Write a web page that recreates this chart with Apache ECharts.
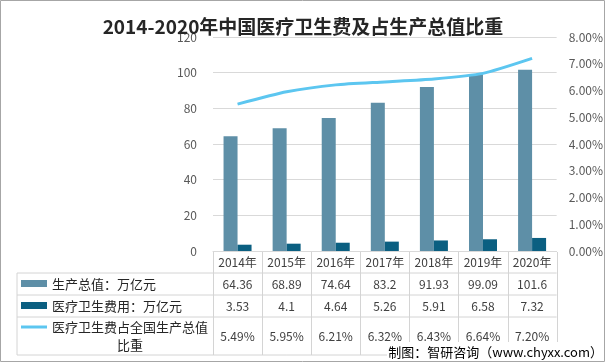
<!DOCTYPE html>
<html><head><meta charset="utf-8">
<script src="https://cdn.jsdelivr.net/npm/echarts@6/dist/echarts.min.js"></script>
<style>html,body{margin:0;padding:0;background:#fff}#c{width:606px;height:363px}</style>
</head><body><div id="c"></div>
<script>
const title = '2014-2020年中国医疗卫生费及占生产总值比重';
const categories = ['2014年','2015年','2016年','2017年','2018年','2019年','2020年'];
const gdp = [64.36, 68.89, 74.64, 83.2, 91.93, 99.09, 101.6];
const health = [3.53, 4.1, 4.64, 5.26, 5.91, 6.58, 7.32];
const ratio = [5.49, 5.95, 6.21, 6.32, 6.43, 6.64, 7.20];
const seriesNames = ['生产总值：万亿元', '医疗卫生费用：万亿元', '医疗卫生费占全国生产总值\n比重'];
const footer = '制图：智研咨询（www.chyxx.com）';

const FONT = '"Noto Sans CJK SC", "Noto Sans", sans-serif';
const C_GDP = '#5e8fa7', C_H = '#0b5f81', C_LINE = '#5cc6f0';
const chart = echarts.init(document.getElementById('c'), null, {renderer:'canvas'});
chart.setOption({
  animation:false,
  backgroundColor:'#fff',
  title:{text:title,left:'center',top:12,itemGap:0,
    textStyle:{fontFamily:FONT,fontSize:19,fontWeight:'bold',color:'#262626'}},
  grid:{left:213,right:43,top:37,height:214},
  xAxis:{type:'category',data:categories,
    axisLine:{lineStyle:{color:'#d9d9d9'}},axisTick:{show:false},
    axisLabel:{interval:0,hideOverlap:false,margin:5,fontFamily:FONT,fontSize:12,color:'#404040'}},
  yAxis:[
    {type:'value',min:0,max:120,interval:20,
     axisLine:{show:false},axisTick:{show:false},
     axisLabel:{margin:16,fontFamily:FONT,fontSize:12,color:'#595959'},
     splitLine:{lineStyle:{color:'#d9d9d9'}}},
    {type:'value',min:0,max:8,interval:1,position:'right',
     axisLine:{show:false},axisTick:{show:false},splitLine:{show:false},
     axisLabel:{margin:12,fontFamily:FONT,fontSize:12,color:'#595959',
       formatter:v=>v.toFixed(2)+'%'}}
  ],
  series:[
    {name:seriesNames[0],type:'bar',data:gdp,barWidth:14,barGap:'0%',itemStyle:{color:C_GDP}},
    {name:seriesNames[1],type:'bar',data:health,barWidth:14,barGap:'0%',itemStyle:{color:C_H}},
    {name:seriesNames[2],type:'line',yAxisIndex:1,data:ratio,smooth:0.2,showSymbol:false,
     lineStyle:{color:C_LINE,width:3},itemStyle:{color:C_LINE}}
  ]
});

// Data table below the plot
const c0 = chart.convertToPixel({xAxisIndex:0}, 0);
const c1 = chart.convertToPixel({xAxisIndex:0}, 1);
const band = c1 - c0;
const xL = c0 - band/2, xR = xL + band*categories.length;
const tableLeft = 17;
const yHead = 252, rows = [273, 295, 317, 355];
const lineC = '#d4d4d4';
const g = [];
function hline(x1,x2,y){g.push({type:'line',shape:{x1,y1:y,x2,y2:y},style:{stroke:lineC,lineWidth:1},z:10});}
function vline(x,y1,y2){g.push({type:'line',shape:{x1:x,y1,x2:x,y2},style:{stroke:lineC,lineWidth:1},z:10});}
rows.forEach(y=>hline(tableLeft,xR,y));
for(let i=0;i<=categories.length;i++) vline(Math.round(xL+band*i)+0.5,yHead,rows[3]);
vline(tableLeft,rows[0],rows[3]);
const rowData = [gdp.map(v=>String(v)), health.map(v=>String(v)), ratio.map(v=>v.toFixed(2)+'%')];
rowData.forEach((arr,r)=>{
  const yc = (rows[r]+rows[r+1])/2;
  arr.forEach((t,i)=>{
    const xc = chart.convertToPixel({xAxisIndex:0}, i);
    g.push({type:'text',x:xc,y:yc,z:11,style:{text:t,align:'center',verticalAlign:'middle',
      font:'12px '+FONT,fill:'#404040'}});
  });
});
// legend column
[[C_GDP,'rect'],[C_H,'rect'],[C_LINE,'line']].forEach((d,r)=>{
  const yc = r<2 ? (rows[r]+rows[r+1])/2 : rows[2]+10;
  if(d[1]==='rect') g.push({type:'rect',shape:{x:21,y:yc-4,width:26,height:7},style:{fill:d[0]},z:11});
  else g.push({type:'line',shape:{x1:21,y1:yc,x2:47,y2:yc},style:{stroke:d[0],lineWidth:3},z:11});
});
g.push({type:'text',x:52,y:(rows[0]+rows[1])/2,z:11,style:{text:seriesNames[0],align:'left',verticalAlign:'middle',font:'13px '+FONT,fill:'#262626'}});
g.push({type:'text',x:52,y:(rows[1]+rows[2])/2,z:11,style:{text:seriesNames[1],align:'left',verticalAlign:'middle',font:'13px '+FONT,fill:'#262626'}});
g.push({type:'text',x:130,y:(rows[2]+rows[3])/2,z:11,style:{text:seriesNames[2],align:'center',verticalAlign:'middle',lineHeight:18,font:'13px '+FONT,fill:'#262626'}});
// footer with white box
g.push({type:'rect',shape:{x:387,y:342,width:216,height:20},style:{fill:'#fff'},z:20});
g.push({type:'text',x:603,y:352,z:21,style:{text:footer,align:'right',verticalAlign:'middle',font:'13px '+FONT,fill:'#000'}});
// outer frame
g.push({type:'rect',shape:{x:0.5,y:0.5,width:604,height:361},style:{fill:'none',stroke:'#a6a6a6',lineWidth:1},z:30});
chart.setOption({graphic:g});
</script></body></html>
